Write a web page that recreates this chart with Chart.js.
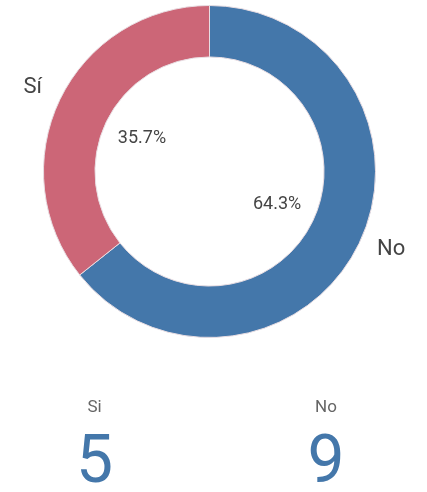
<!DOCTYPE html>
<html>
<head>
<meta charset="utf-8">
<script src="https://cdn.jsdelivr.net/npm/chart.js@4"></script>
<style>
  html, body { margin: 0; padding: 0; background: #fff; }
  canvas { display: block; }
</style>
</head>
<body>
<canvas id="chartContainer" width="427" height="492"></canvas>
<script>
// slice names and counts, clockwise from the top
var sliceLabels = ["No", "Sí"];
var sliceValues = [9, 5];
var sliceColors = ["#4477AA", "#CC6677"];

// counters under the ring
var kpiLabels = ["Si", "No"];
var kpiValues = [5, 9];

var textFont = "Roboto, 'Noto Sans', sans-serif";

// percent inside the ring, name outside it, both on the slice's middle angle
var sliceText = {
    id: "sliceText",
    afterDatasetsDraw: function(chart) {
        var ctx = chart.ctx;
        var meta = chart.getDatasetMeta(0);
        var data = chart.data.datasets[0].data;
        var total = data.reduce(function(a, b) { return a + b; }, 0);
        ctx.save();
        ctx.textBaseline = "middle";
        meta.data.forEach(function(arc, i) {
            var p = arc.getProps(["x", "y", "startAngle", "endAngle"], true);
            var mid = (p.startAngle + p.endAngle) / 2;
            var cx = Math.cos(mid), cy = Math.sin(mid);
            var pct = (data[i] / total * 100).toFixed(1) + "%";
            ctx.fillStyle = "#444";
            ctx.textAlign = "center";
            ctx.font = "18px " + textFont;
            ctx.fillText(pct, p.x + cx * 75, p.y + cy * 75);
            // outer name hangs off the ring edge, away from the centre
            ctx.textAlign = cx >= 0 ? "left" : "right";
            ctx.font = "22px " + textFont;
            ctx.fillText(chart.data.labels[i], p.x + cx * 186, p.y + cy * 186 - 3);
        });
        ctx.restore();
    }
};

// the two counters below the chart
var kpiBlock = {
    id: "kpiBlock",
    afterDraw: function(chart) {
        var ctx = chart.ctx;
        var cols = [94.5, 326];
        ctx.save();
        ctx.textAlign = "center";
        ctx.textBaseline = "alphabetic";
        for (var i = 0; i < kpiLabels.length; i++) {
            ctx.fillStyle = "#666";
            ctx.font = "17px " + textFont;
            ctx.fillText(kpiLabels[i], cols[i], 412);
            ctx.fillStyle = "#4477AA";
            ctx.font = "66px " + textFont;
            ctx.fillText(String(kpiValues[i]), cols[i], 482);
        }
        ctx.restore();
    }
};

window.onload = function() {
    new Chart(document.getElementById("chartContainer"), {
        type: "doughnut",
        data: {
            labels: sliceLabels,
            datasets: [{
                data: sliceValues,
                backgroundColor: sliceColors,
                borderColor: "#e8dde2",
                borderWidth: 1,
                hoverOffset: 0
            }]
        },
        options: {
            responsive: false,
            devicePixelRatio: 1,
            animation: false,
            cutout: "69%",
            rotation: 0,
            layout: { padding: { top: 5, bottom: 154, left: 0, right: 8 } },
            plugins: {
                legend: { display: false },
                tooltip: { enabled: false }
            }
        },
        plugins: [sliceText, kpiBlock]
    });
};
</script>
</body>
</html>
